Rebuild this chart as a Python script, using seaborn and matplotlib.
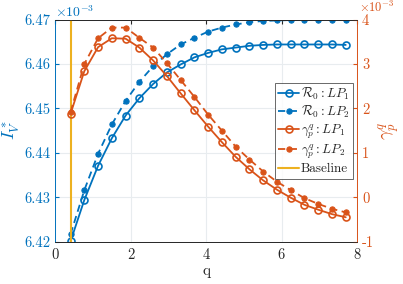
import numpy as np
import seaborn as sns
import matplotlib.pyplot as plt

sns.set_style("white")
plt.rcParams['font.family'] = 'serif'
plt.rcParams['font.serif'] = ['cmr10', 'DejaVu Serif']
plt.rcParams['mathtext.fontset'] = 'cm'
plt.rcParams['axes.formatter.use_mathtext'] = True
plt.rcParams['font.size'] = 10.5

q = [0.4, 0.765, 1.13, 1.495, 1.86, 2.225, 2.59, 2.955, 3.32, 3.685, 4.05,
     4.415, 4.78, 5.145, 5.51, 5.875, 6.24, 6.605, 6.97, 7.335, 7.7]

r0_lp1 = [6.4201, 6.4294, 6.4371, 6.4433, 6.4484, 6.4523, 6.4555, 6.4581, 6.4599,
          6.4615, 6.4625, 6.4633, 6.4637, 6.4641, 6.4643, 6.4644, 6.4644, 6.4644,
          6.4644, 6.4644, 6.4643]
r0_lp2 = [6.4217, 6.4316, 6.4398, 6.4464, 6.4517, 6.4560, 6.4595, 6.4622, 6.4644,
          6.4659, 6.4673, 6.4682, 6.4689, 6.4694, 6.4697, 6.4698, 6.4699, 6.4699,
          6.4699, 6.4699, 6.4699]
gam_lp1 = [1.88, 2.84, 3.38, 3.58, 3.57, 3.37, 3.08, 2.73, 2.34, 1.96, 1.59,
           1.24, 0.91, 0.63, 0.38, 0.17, -0.01, -0.17, -0.28, -0.38, -0.45]
gam_lp2 = [1.92, 3.00, 3.58, 3.82, 3.82, 3.59, 3.37, 3.02, 2.64, 2.26, 1.86,
           1.50, 1.14, 0.85, 0.58, 0.35, 0.16, -0.02, -0.15, -0.26, -0.34]
baseline_q = 0.4

blue = '#0072BD'
orange = '#D95319'
yellow = '#EDB120'

fig = plt.figure(figsize=(4.03, 2.84), dpi=100)
ax = fig.add_axes([0.1377, 0.149, 0.7483, 0.782])
ax2 = ax.twinx()

sns.lineplot(x=q, y=r0_lp1, ax=ax, color=blue, marker='o', markersize=5,
             markerfacecolor='none', markeredgecolor=blue, markeredgewidth=1.2,
             linewidth=1.3, label=r'$\mathcal{R}_0:LP_1$', legend=False)
sns.lineplot(x=q, y=r0_lp2, ax=ax, color=blue, marker='o', markersize=3.8,
             markeredgecolor=blue, linestyle=(0, (4, 2.5)), linewidth=1.3,
             label=r'$\mathcal{R}_0:LP_2$', legend=False)
sns.lineplot(x=q, y=gam_lp1, ax=ax2, color=orange, marker='o', markersize=5,
             markerfacecolor='none', markeredgecolor=orange, markeredgewidth=1.2,
             linewidth=1.3, label=r'$\gamma_p^q:LP_1$', legend=False)
sns.lineplot(x=q, y=gam_lp2, ax=ax2, color=orange, marker='o', markersize=3.8,
             markeredgecolor=orange, linestyle=(0, (4, 2.5)), linewidth=1.3,
             label=r'$\gamma_p^q:LP_2$', legend=False)
ax2.axvline(baseline_q, color=yellow, linewidth=1.5, label='Baseline', zorder=0)

ax.set_xlim(0, 8)
ax.set_ylim(6.42, 6.47)
ax2.set_ylim(-1, 4)
ax.set_xticks([0, 2, 4, 6, 8])
ax.set_yticks([6.42, 6.43, 6.44, 6.45, 6.46, 6.47])
ax.set_yticklabels(['6.42', '6.43', '6.44', '6.45', '6.46', '6.47'])
ax2.set_yticks([-1, 0, 1, 2, 3, 4])
ax2.set_yticklabels(['-1', '0', '1', '2', '3', '4'])

ax.grid(True, color='#e8ecef', linewidth=0.8)
ax.set_axisbelow(True)

ax.tick_params(axis='x', direction='in', colors='#262626', length=3, top=True,
               labelsize=10.5)
ax.tick_params(axis='y', direction='in', colors=blue, length=3, labelsize=10.5)
ax2.tick_params(axis='y', direction='in', colors=orange, length=3, labelsize=10.5)

for a in (ax, ax2):
    a.spines['top'].set_color('#262626')
    a.spines['bottom'].set_color('#262626')
    a.spines['left'].set_color(blue)
    a.spines['right'].set_color(orange)
    for s in a.spines.values():
        s.set_linewidth(0.6)

ax.set_xlabel('q', fontsize=11, color='#262626', labelpad=2)
ax.set_ylabel(r'$I_V^*$', fontsize=13, color=blue)
ax2.set_ylabel(r'$\gamma_p^q$', fontsize=13, color=orange)
ax.yaxis.set_label_coords(-0.11, 0.5)
ax2.yaxis.set_label_coords(1.065, 0.5)

ax.text(0.0, 1.0, r'$\times10^{-3}$', transform=ax.transAxes, color=blue,
        fontsize=10, ha='left', va='bottom')
ax2.text(1.005, 1.02, r'$\times10^{-3}$', transform=ax2.transAxes, color=orange,
         fontsize=9, ha='left', va='bottom')

h1, l1 = ax.get_legend_handles_labels()
h2, l2 = ax2.get_legend_handles_labels()
leg = ax2.legend(h1 + h2, l1 + l2, loc='center right', fontsize=9.5,
                 frameon=True, fancybox=False, edgecolor='#262626',
                 handlelength=1.6, handletextpad=0.1, borderpad=0.25,
                 labelspacing=0.15, borderaxespad=0.3)
leg.get_frame().set_linewidth(0.6)

fig.savefig('out.png', dpi=100)
